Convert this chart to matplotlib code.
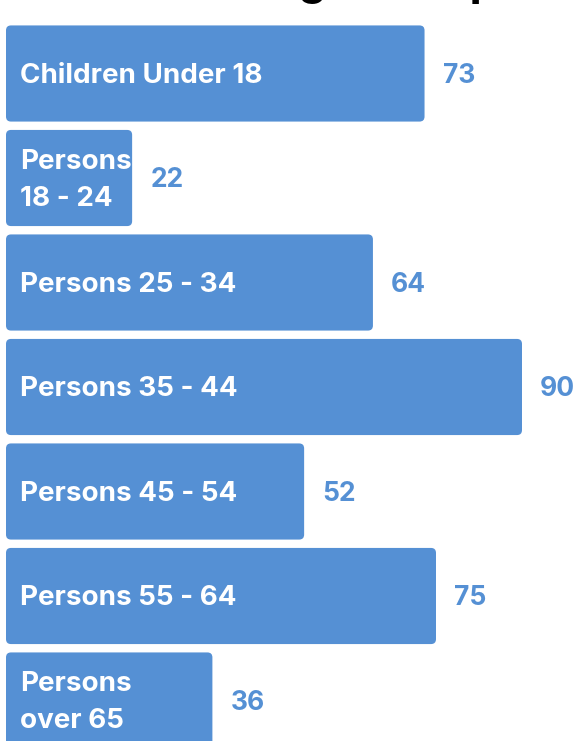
import matplotlib.pyplot as plt
from matplotlib.patches import FancyBboxPatch

# data
labels = ["Children Under 18", "Persons\n18 - 24", "Persons 25 - 34", "Persons 35 - 44",
          "Persons 45 - 54", "Persons 55 - 64", "Persons\nover 65"]
values = [73, 22, 64, 90, 52, 75, 36]
title = "Residents Age Group"

blue = "#5590d4"
FONT = "Inter"
W, H = 574, 741
fig = plt.figure(figsize=(W / 100, H / 100), dpi=100)
ax = fig.add_axes([0, 0, 1, 1])

# pixel geometry -> data limits
px_x = (522 - 6) / 90.0      # pixels per value unit
pitch = 104.5                # pixels per bar slot
ax.set_xlim(-6 / px_x, (W - 6) / px_x)
ax.set_ylim((H - 73.5) / pitch, -73.5 / pitch)
ax.axis("off")

pos = list(range(len(values)))
bars = ax.barh(pos, values, height=0.92, color=blue)

# swap the square bars for rounded ones
aspect = (1 / pitch) / (1 / px_x)
for b in bars:
    r = FancyBboxPatch((b.get_x(), b.get_y()), b.get_width(), b.get_height(),
                       boxstyle="round,pad=0,rounding_size=%f" % (5 / px_x),
                       mutation_aspect=aspect, fc=blue, ec="none")
    b.set_visible(False)
    ax.add_patch(r)

for y, v, lab in zip(pos, values, labels):
    ax.text(14 / px_x, y + 0.02, lab, color="white", fontsize=20,
            fontweight="bold", family=FONT, va="center", ha="left",
            linespacing=1.55)
    ax.text(v + 18 / px_x, y + 0.02, str(v), color=blue, fontsize=19,
            fontweight="bold", family=FONT, va="center", ha="left")

# title sits mostly above the canvas, only descenders show
fig.text(498 / W, 1 + 5 / H, title, fontsize=32, fontweight="bold",
         family=FONT, ha="right", va="baseline")

fig.savefig("out.png", dpi=100)
